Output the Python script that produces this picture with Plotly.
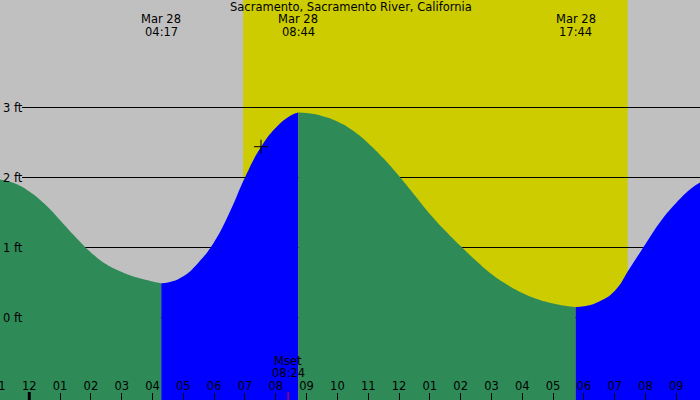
import plotly.graph_objects as go

# ---------------- data (hours since midnight Mar 28, heights in ft) ----------------
TITLE = "Sacramento, Sacramento River, California"
DATE_LABEL = "Mar 28"

fall1_t = [-0.951, -0.5, 0, 0.5, 1, 1.5, 2, 2.5, 3, 3.5, 4, 4.283]
fall1_h = [1.97, 1.92, 1.80, 1.62, 1.39, 1.15, 0.93, 0.76, 0.65, 0.57, 0.515, 0.49]

rise1_t = [4.283, 4.5, 5, 5.5, 6, 6.5, 7, 7.5, 8, 8.5, 8.733]
rise1_h = [0.49, 0.50, 0.59, 0.79, 1.08, 1.50, 2.00, 2.42, 2.71, 2.89, 2.93]

fall2_t = [8.733, 9, 9.5, 10, 10.5, 11, 11.5, 12, 12.5, 13, 13.5, 14, 14.5, 15, 15.5, 16, 16.5, 17, 17.5, 17.733]
fall2_h = [2.93, 2.92, 2.88, 2.80, 2.67, 2.49, 2.27, 2.02, 1.75, 1.48, 1.24, 1.02, 0.81, 0.62, 0.47, 0.35, 0.26, 0.20, 0.16, 0.15]

rise2_t = [17.733, 18, 18.5, 19, 19.5, 20, 20.5, 21, 21.5, 21.769]
rise2_h = [0.15, 0.16, 0.23, 0.38, 0.71, 1.05, 1.38, 1.64, 1.85, 1.93]

extreme_t = [4.283, 8.733, 17.733]
extreme_labels = ["04:17", "08:44", "17:44"]

sunrise_t = 6.94
sunset_t = 19.42

moonset_t = 8.4
moonset_label = ["Mset", "08:24"]

now_t = [7.52]
now_h = [2.44]

midnight_t = 0

y_ticks = [0, 1, 2, 3]
y_ticktext = ["0 ft", "1 ft", "2 ft", "3 ft"]
x_tickvals = list(range(-1, 22))
x_ticktext = ["11", "12", "01", "02", "03", "04", "05", "06", "07", "08", "09", "10",
              "11", "12", "01", "02", "03", "04", "05", "06", "07", "08", "09"]

# ---------------- style ----------------
X_RANGE = [-0.951, 21.769]
Y_RANGE = [-1.17857, 4.53571]
GREY = "#C0C0C0"
YELLOW = "#CCCC00"
GREEN = "#2E8B57"
BLUE = "#0000FF"
FONT = dict(family="DejaVu Sans", size=11.5, color="black")

fig = go.Figure()

segments = [(fall1_t, fall1_h, GREEN), (rise1_t, rise1_h, BLUE),
            (fall2_t, fall2_h, GREEN), (rise2_t, rise2_h, BLUE)]
for ts, hs, col in segments:
    fig.add_trace(go.Scatter(x=[ts[0], ts[-1]], y=[Y_RANGE[0], Y_RANGE[0]],
                             mode="lines", line=dict(width=0, color=col),
                             hoverinfo="skip", showlegend=False))
    fig.add_trace(go.Scatter(x=ts, y=hs, mode="lines",
                             line=dict(width=0, color=col, shape="spline", smoothing=1.3),
                             fill="tonexty", fillcolor=col,
                             hoverinfo="skip", showlegend=False))

fig.add_trace(go.Scatter(x=now_t, y=now_h, mode="markers",
                         marker=dict(symbol="cross-thin", size=10,
                                     line=dict(width=1, color="black")),
                         hoverinfo="skip", showlegend=False))

shapes = [dict(type="rect", xref="x", yref="paper", x0=sunrise_t, x1=sunset_t,
               y0=0, y1=1, fillcolor=YELLOW, line=dict(width=0), layer="below")]
for v in y_ticks:
    shapes.append(dict(type="line", xref="paper", yref="y", x0=22 / 700, x1=1,
                       y0=v, y1=v, line=dict(color="black", width=1), layer="between"))
shapes.append(dict(type="line", xref="x", yref="paper", x0=midnight_t, x1=midnight_t,
                   y0=0, y1=8 / 400, line=dict(color="black", width=3), layer="above"))
shapes.append(dict(type="line", xref="x", yref="paper", x0=moonset_t, x1=moonset_t,
                   y0=0, y1=8 / 400, line=dict(color="red", width=1), layer="above"))

annotations = [dict(text=TITLE, xref="paper", yref="paper", x=0.501, y=1 - 7.3 / 400,
                    yanchor="middle", showarrow=False, font=FONT)]
for t, lab in zip(extreme_t, extreme_labels):
    annotations.append(dict(text=DATE_LABEL, xref="x", yref="paper", x=t, y=1 - 19.3 / 400,
                            yanchor="middle", showarrow=False, font=FONT))
    annotations.append(dict(text=lab, xref="x", yref="paper", x=t, y=1 - 31.7 / 400,
                            yanchor="middle", showarrow=False, font=FONT))
annotations.append(dict(text=moonset_label[0], xref="x", yref="paper", x=moonset_t,
                        y=1 - 360.7 / 400, yanchor="middle", showarrow=False, font=FONT))
annotations.append(dict(text=moonset_label[1], xref="x", yref="paper", x=moonset_t,
                        y=1 - 372.7 / 400, yanchor="middle", showarrow=False, font=FONT))
# partially visible tick label at the left edge (its tick lies just outside the range)
edge_x = (x_tickvals[0] - X_RANGE[0]) / (X_RANGE[1] - X_RANGE[0])
annotations.append(dict(text=x_ticktext[0], xref="paper", yref="paper", x=edge_x,
                        xanchor="center", y=1 - 385.5 / 400, yanchor="middle",
                        showarrow=False, font=FONT))

fig.update_layout(
    width=700, height=400, margin=dict(l=0, r=0, t=0, b=0),
    paper_bgcolor=GREY, plot_bgcolor=GREY,
    shapes=shapes, annotations=annotations, font=FONT,
    xaxis=dict(range=X_RANGE, showgrid=False, zeroline=False, showline=False,
               tickmode="array", tickvals=x_tickvals, ticktext=x_ticktext,
               ticks="inside", ticklen=7, tickwidth=1, tickcolor="black",
               ticklabelposition="inside", tickfont=FONT, fixedrange=True),
    yaxis=dict(range=Y_RANGE, showgrid=False, zeroline=False, showline=False,
               tickmode="array", tickvals=y_ticks, ticktext=y_ticktext,
               ticks="", ticklabelposition="inside", tickfont=FONT, fixedrange=True),
)

fig.write_html("out.html", config={"displayModeBar": False},
               post_script="document.body.style.margin='0';document.body.style.overflow='hidden';")
